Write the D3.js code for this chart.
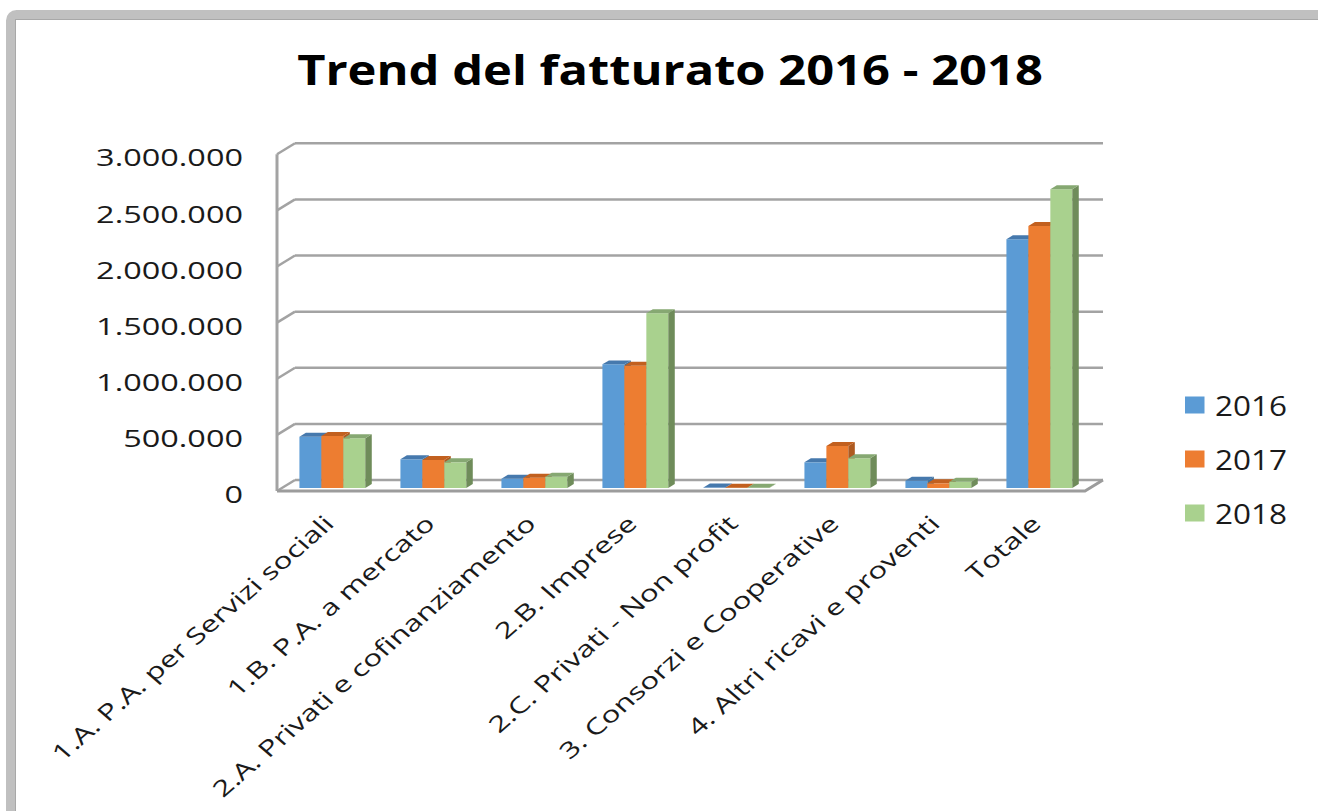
<!DOCTYPE html>
<html>
<head>
<meta charset="utf-8">
<script src="https://cdnjs.cloudflare.com/ajax/libs/d3/7.8.5/d3.min.js"></script>
<style>
    html, body { margin: 0; padding: 0; background: #fff; }
    svg { display: block; }
    text { font-family: "Open Sans", "Liberation Sans", sans-serif; fill: #1a1a1a; }
</style>
</head>
<body>
<div id="chart"></div>
<script>
// chart data
const categories = [
    "1.A. P.A. per Servizi sociali",
    "1.B. P.A. a mercato",
    "2.A. Privati e cofinanziamento",
    "2.B. Imprese",
    "2.C. Privati - Non profit",
    "3. Consorzi e Cooperative",
    "4. Altri ricavi e proventi",
    "Totale"
];
const years = ["2016", "2017", "2018"];
const values2016 = [457000, 256000, 83000, 1102000, 4000, 229000, 65000, 2216000];
const values2017 = [463000, 250000, 92000, 1090000, 3000, 374000, 42000, 2335000];
const values2018 = [443000, 229000, 101000, 1557000, 2000, 265000, 56000, 2662000];
const yTicks = [0, 500000, 1000000, 1500000, 2000000, 2500000, 3000000];

const series = [values2016, values2017, values2018];
const colors = {
    "2016": {front: "#5b9bd5", top: "#4679ad", side: "#41719c"},
    "2017": {front: "#ed7d31", top: "#c2601f", side: "#ae5a21"},
    "2018": {front: "#a9d18e", top: "#86a872", side: "#6f8c5a"}
};

const W = 1318, H = 811;
const svg = d3.select("#chart").append("svg")
    .attr("width", W)
    .attr("height", H);

// outer frame
svg.append("rect")
    .attr("x", 10.5).attr("y", 14.5)
    .attr("width", W).attr("height", H)
    .attr("rx", 6)
    .attr("fill", "none")
    .attr("stroke", "#c0c0c0")
    .attr("stroke-width", 9);
svg.append("rect")
    .attr("x", 15.5).attr("y", 19.5)
    .attr("width", W).attr("height", H)
    .attr("fill", "none")
    .attr("stroke", "#a8a8a8")
    .attr("stroke-width", 1);

// 3d oblique projection: depth z in [0,1]
const DX = 18, DY = 11;
const plot = {left: 277, right: 1085, bottom: 491, top: 154.3};

const x0 = d3.scaleBand()
    .domain(categories)
    .range([plot.left, plot.right])
    .padding(0);

const x1 = d3.scaleBand()
    .domain(years)
    .range([0, x0.bandwidth()])
    .paddingInner(0)
    .paddingOuter(0.8);

const y = d3.scaleLinear()
    .domain([0, 3000000])
    .range([plot.bottom, plot.top]);

function proj(px, v, z) {
    return [px + DX * z, y(v) - DY * z];
}

// horizontal text stretch to fit a reference width
function stretchFor(sel, refText, target) {
    let len = 0;
    sel.each(function() {
        if (this.textContent === refText) len = this.getComputedTextLength();
    });
    return len ? target / len : 1;
}

let grid = svg.append("g").attr("class", "grid");

// back wall gridlines
grid.selectAll(".back-line")
    .data(yTicks)
    .enter().append("line")
    .attr("class", "back-line")
    .attr("x1", d => proj(plot.left, d, 1)[0])
    .attr("x2", d => proj(plot.right, d, 1)[0])
    .attr("y1", d => proj(plot.left, d, 1)[1])
    .attr("y2", d => proj(plot.right, d, 1)[1])
    .attr("stroke", "#a3a3a3")
    .attr("stroke-width", 2.5);

// left side connectors
grid.selectAll(".side-line")
    .data(yTicks)
    .enter().append("line")
    .attr("class", "side-line")
    .attr("x1", d => proj(plot.left, d, 0)[0])
    .attr("x2", d => proj(plot.left, d, 1)[0])
    .attr("y1", d => proj(plot.left, d, 0)[1])
    .attr("y2", d => proj(plot.left, d, 1)[1])
    .attr("stroke", "#a3a3a3")
    .attr("stroke-width", 2.5);

// vertical axis line
grid.append("line")
    .attr("x1", plot.left).attr("x2", plot.left)
    .attr("y1", y(3000000)).attr("y2", y(0))
    .attr("stroke", "#a3a3a3")
    .attr("stroke-width", 3);

// floor
let floorPts = [
    proj(plot.left, 0, 0), proj(plot.right, 0, 0),
    proj(plot.right, 0, 1)
];
grid.append("polyline")
    .attr("points", floorPts.map(p => p.join(",")).join(" "))
    .attr("fill", "none")
    .attr("stroke", "#9c9c9c")
    .attr("stroke-width", 3)
    .attr("stroke-linejoin", "round");

// bars
const z0 = 0.27, z1 = 0.63;
let barData = [];
categories.forEach((c, i) => {
    years.forEach((yr, j) => {
        barData.push({cat: c, year: yr, value: series[j][i]});
    });
});

let bars = svg.append("g").attr("class", "bars")
    .selectAll(".bar")
    .data(barData)
    .enter().append("g")
    .attr("class", "bar");

bars.each(function(d) {
    let g = d3.select(this);
    let xa = x0(d.cat) + x1(d.year);
    let xb = xa + x1.bandwidth();
    let fTL = proj(xa, d.value, z0), fTR = proj(xb, d.value, z0);
    let fBR = proj(xb, 0, z0), fBL = proj(xa, 0, z0);
    let bTL = proj(xa, d.value, z1), bTR = proj(xb, d.value, z1), bBR = proj(xb, 0, z1);
    let c = colors[d.year];
    g.append("polygon")
        .attr("points", [fTL, fTR, fBR, fBL].map(p => p.join(",")).join(" "))
        .attr("fill", c.front);
    g.append("polygon")
        .attr("points", [fTR, bTR, bBR, fBR].map(p => p.join(",")).join(" "))
        .attr("fill", c.side);
    g.append("polygon")
        .attr("points", [fTL, bTL, bTR, fTR].map(p => p.join(",")).join(" "))
        .attr("fill", c.top);
});

// y axis labels
let yLabels = svg.append("g").attr("class", "y-labels")
    .selectAll("text")
    .data(yTicks)
    .enter().append("text")
    .attr("text-anchor", "end")
    .attr("dominant-baseline", "central")
    .style("font-size", "24px")
    .text(d => d3.format(",")(d).replace(/,/g, "."));
let ySx = stretchFor(yLabels, "3.000.000", 147);
yLabels.attr("transform", d => `translate(243, ${y(d) + 2.5}) scale(${ySx}, 1)`);

// x axis labels
let xLabels = svg.append("g").attr("class", "x-labels")
    .selectAll("text")
    .data(categories)
    .enter().append("text")
    .attr("text-anchor", "end")
    .style("font-size", "22px")
    .text(d => d);
let xK = stretchFor(xLabels, categories[0], 336);
xLabels.attr("transform", d =>
    `translate(${x0(d) + x0.bandwidth() / 2 + 8}, 525) scale(1.15, 1) rotate(-45) scale(${xK}, 1)`);

// title
let title = svg.append("text")
    .attr("class", "title")
    .attr("text-anchor", "middle")
    .style("font-size", "42px")
    .style("font-weight", "bold")
    .style("fill", "#000")
    .text("Trend del fatturato 2016 - 2018");
let tSx = stretchFor(title, "Trend del fatturato 2016 - 2018", 746);
title.attr("transform", `translate(670, 85) scale(${tSx}, 1)`);

// legend
let legend = svg.append("g").attr("class", "legend")
    .selectAll("g")
    .data(years)
    .enter().append("g")
    .attr("transform", (d, i) => `translate(1185, ${405 + i * 54})`);

legend.append("rect")
    .attr("x", 0).attr("y", -8.5)
    .attr("width", 19.5).attr("height", 17)
    .attr("fill", d => colors[d].front);

let legText = legend.append("text")
    .attr("dominant-baseline", "central")
    .style("font-size", "27px")
    .text(d => d);
let lSx = stretchFor(legText, "2016", 72);
legText.attr("transform", `translate(30, 1) scale(${lSx}, 1)`);
</script>
</body>
</html>
